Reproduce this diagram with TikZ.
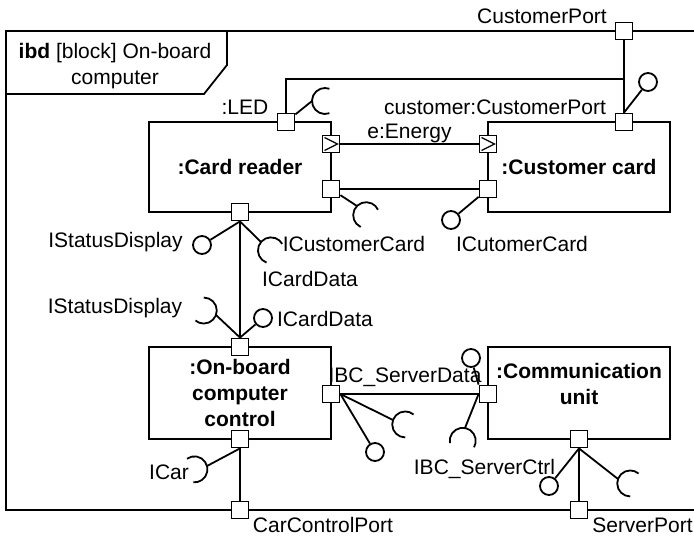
\documentclass[tikz,border=0pt]{standalone}
\usepackage{fontspec}
\setmainfont{Liberation Sans}
\usetikzlibrary{calc}

\begin{document}
\begin{tikzpicture}[x=1pt,y=-1pt,line width=1.8pt,font=\fontsize{21}{26}\selectfont,
box/.style={draw,minimum width=182pt,minimum height=90pt,inner sep=0pt,align=center,font=\fontsize{21}{26}\selectfont\bfseries},
port/.style={draw,fill=white,minimum size=17pt,inner sep=0pt},
flowport/.style={port,path picture={\draw[line width=1.3pt] ([shift={(2pt,-2pt)}]path picture bounding box.north west) -- ([xshift=-2pt]path picture bounding box.east) -- ([shift={(2pt,2pt)}]path picture bounding box.south west);}},
ball/.style={draw,fill=white,circle,minimum size=18pt,inner sep=0pt},
lbl/.style={inner sep=0pt,text height=15pt,text depth=0pt}]
\useasboundingbox (0,0) rectangle (694,536);
\draw (694,31) -- (6,31) -- (6,510) -- (694,510);
\draw (227,31) -- (227,65) -- (204,94) -- (6,94);
\node[inner sep=0pt,align=center] (hdr) at (115,66) {\textbf{ibd} [block] On-board\\computer};
\node[box] (cr) at (240,167) {:Card reader};
\node[box] (cc) at (579,167) {:Customer card};
\node[box,minimum height=92pt] (obc) at (240,393) {:On-board\\computer\\control};
\node[box,minimum height=92pt,text depth=18pt] (cu) at (579,393) {:Communication\\unit};
\node[port] (led) at (286,122) {};
\node[flowport] (crf) at (331,144) {};
\node[port] (crr) at (331,189) {};
\node[port] (crb) at (240,212) {};
\node[port] (cct) at (624,122) {};
\node[flowport] (ccf) at (488,144) {};
\node[port] (ccl) at (488,189) {};
\node[port] (obt) at (240,347) {};
\node[port] (obr) at (331,394) {};
\node[port] (obb) at (240,439) {};
\node[port] (cul) at (488,394) {};
\node[port] (cub) at (579,439) {};
\node[port] (custp) at (624,31) {};
\node[port] (carp) at (240,510) {};
\node[port] (srvp) at (579,510) {};
\coordinate (j) at (624,79);
\draw (custp) -- (cct);
\draw (led) |- (j);
\draw (crf) -- node[lbl,above=5pt] {e:Energy} (ccf);
\draw (crr) -- (ccl);
\draw (crb) -- (obt);
\draw (obr) -- (cul);
\draw (obb) -- (carp);
\draw (cub) -- (srvp);
\node[ball] (b1) at (648,82) {};
\node[ball] (b2) at (451,220) {};
\node[ball] (b3) at (202,245) {};
\node[ball] (b4) at (263,318) {};
\node[ball] (b5) at (375,452) {};
\node[ball] (b6) at (471,358) {};
\node[ball] (b7) at (549,486) {};
\draw (cct.north) -- (b1);
\draw (ccl) -- (b2);
\draw (crb.south) -- (b3);
\draw (obt.north) -- (b4);
\draw (obr.east) -- (b5);
\draw (cul.north west) -- (b6);
\draw (cub.south) -- (b7);
\coordinate (s1) at (312,101);
\coordinate (s2) at (357,206);
\coordinate (s3) at (261,242);
\coordinate (s4) at (216,315);
\coordinate (s5) at (207,466);
\coordinate (s6) at (393,420);
\coordinate (s7) at (465,428);
\coordinate (s8) at (618,479);
\draw (led) -- (s1);
\draw (crr) -- (s2);
\draw (crb.south) -- (s3);
\draw (obt.north) -- (s4);
\draw (obb.south) -- (s5);
\draw (obr.east) -- (s6);
\draw (cul.west) -- (s7);
\draw (cub.south) -- (s8);
\draw (s1) ++(0:13) ++(70:13) arc[start angle=70,delta angle=220,radius=13];
\draw (s2) ++(45:13) ++(115:13) arc[start angle=115,delta angle=220,radius=13];
\draw (s3) ++(40:13) ++(110:13) arc[start angle=110,delta angle=220,radius=13];
\draw (s4) ++(200:13) ++(270:13) arc[start angle=270,delta angle=220,radius=13];
\draw (s5) ++(165:13) ++(235:13) arc[start angle=235,delta angle=220,radius=13];
\draw (s6) ++(20:13) ++(90:13) arc[start angle=90,delta angle=220,radius=13];
\draw (s7) ++(100:13) ++(170:13) arc[start angle=170,delta angle=220,radius=13];
\draw (s8) ++(20:13) ++(90:13) arc[start angle=90,delta angle=220,radius=13];
\node[lbl] (l1) at (542,15.5) {CustomerPort};
\node[lbl] (l2) at (245,107) {:LED};
\node[lbl] (l3) at (495,107) {customer:CustomerPort};
\node[lbl] (l4) at (115.5,240) {IStatusDisplay};
\node[lbl] (l5) at (354,244) {ICustomerCard};
\node[lbl] (l6) at (522,244) {ICutomerCard};
\node[lbl] (l7) at (310,278.5) {ICardData};
\node[lbl] (l8) at (115,305.5) {IStatusDisplay};
\node[lbl] (l9) at (325,318.5) {ICardData};
\node[lbl] (l10) at (405,375) {IBC\_ServerData};
\node[lbl] (l11) at (484.5,466.5) {IBC\_ServerCtrl};
\node[lbl] (l12) at (169,471.5) {ICar};
\node[lbl] (l13) at (323,525) {CarControlPort};
\node[lbl] (l14) at (642.5,525) {ServerPort};
\end{tikzpicture}
\end{document}
